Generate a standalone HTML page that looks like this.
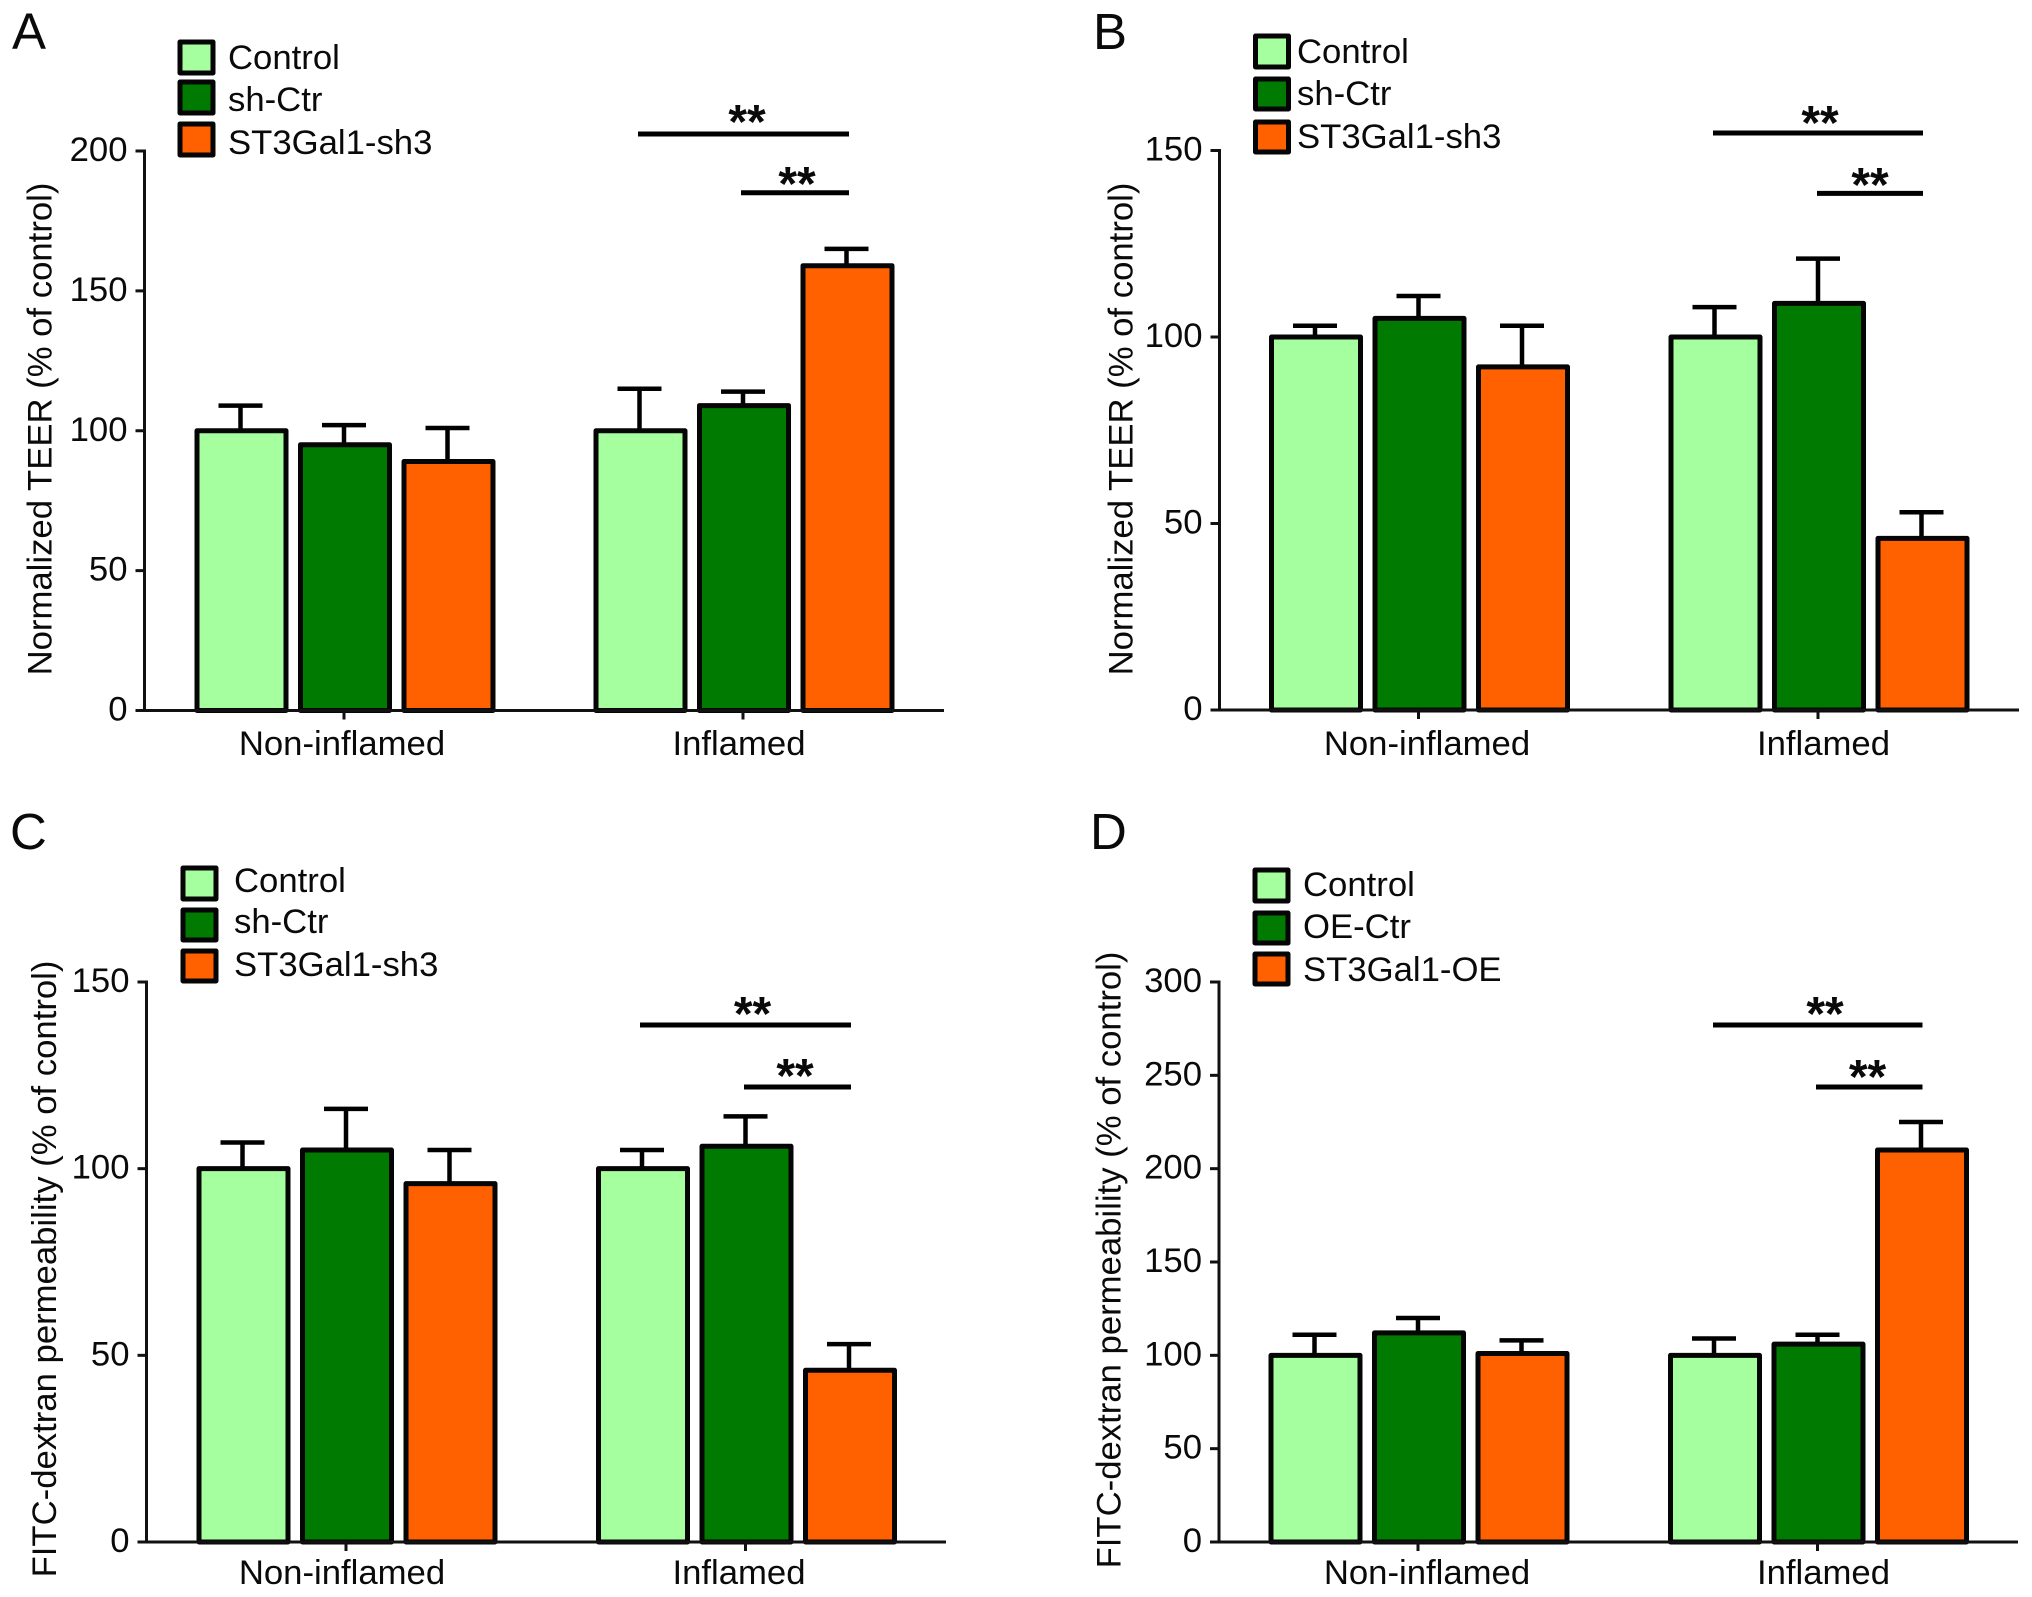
<!DOCTYPE html>
<html lang="en">
<head>
<meta charset="utf-8">
<title>Normalized TEER and FITC-dextran permeability</title>
<style>
html,body{margin:0;padding:0;background:#fff;}
svg{display:block;}
text{font-family:"Liberation Sans",sans-serif;fill:#0a0a0a;}
.tl{font-size:34.7px;}
.pl{font-size:51px;}
.st{font-size:48px;font-weight:bold;text-anchor:middle;}
.mid{text-anchor:middle;}
.br{stroke:#000;stroke-width:5;}
.lg{stroke:#050505;stroke-width:5;stroke-linejoin:round;}
</style>
</head>
<body>
<svg id="fig" xmlns="http://www.w3.org/2000/svg" width="2032" height="1597" viewBox="0 0 2032 1597">
<rect width="2032" height="1597" fill="#fff"/>

<g id="panel-a">
  <text class="pl" x="12" y="49">A</text>
  <text class="tl mid" transform="translate(51.5,429) rotate(-90)">Normalized TEER (% of control)</text>
  <g>
    <rect class="lg" x="180" y="42" width="33" height="31" fill="#a6ff9e"/>
    <text class="tl" x="228" y="69">Control</text>
    <rect class="lg" x="180" y="82" width="33" height="31" fill="#007a00"/>
    <text class="tl" x="228" y="111">sh-Ctr</text>
    <rect class="lg" x="180" y="124" width="33" height="31" fill="#ff6000"/>
    <text class="tl" x="228" y="154">ST3Gal1-sh3</text>
  </g>
  <text class="tl mid" x="342" y="755">Non-inflamed</text>
  <text class="tl mid" x="739" y="755">Inflamed</text>
  <g>
    <line class="br" x1="638" x2="849" y1="134" y2="134"/>
    <text class="st" x="747" y="138">**</text>
    <line class="br" x1="741" x2="849" y1="192.7" y2="192.7"/>
    <text class="st" x="797" y="200">**</text>
  </g>
  <g id="plot-a"></g>
</g>

<g id="panel-b">
  <text class="pl" x="1093" y="49">B</text>
  <text class="tl mid" transform="translate(1132.5,429) rotate(-90)">Normalized TEER (% of control)</text>
  <g>
    <rect class="lg" x="1255.5" y="36" width="33" height="31" fill="#a6ff9e"/>
    <text class="tl" x="1297" y="63">Control</text>
    <rect class="lg" x="1255.5" y="79" width="33" height="30" fill="#007a00"/>
    <text class="tl" x="1297" y="105">sh-Ctr</text>
    <rect class="lg" x="1255.5" y="122" width="33" height="30" fill="#ff6000"/>
    <text class="tl" x="1297" y="148">ST3Gal1-sh3</text>
  </g>
  <text class="tl mid" x="1427" y="755">Non-inflamed</text>
  <text class="tl mid" x="1823.5" y="755">Inflamed</text>
  <g>
    <line class="br" x1="1713" x2="1923" y1="133" y2="133"/>
    <text class="st" x="1820" y="139">**</text>
    <line class="br" x1="1817" x2="1923" y1="193.4" y2="193.4"/>
    <text class="st" x="1870" y="201">**</text>
  </g>
  <g id="plot-b"></g>
</g>

<g id="panel-c">
  <text class="pl" x="10" y="849">C</text>
  <text class="tl mid" transform="translate(56,1269) rotate(-90)">FITC-dextran permeability (% of control)</text>
  <g>
    <rect class="lg" x="183" y="868" width="33" height="31" fill="#a6ff9e"/>
    <text class="tl" x="234" y="892">Control</text>
    <rect class="lg" x="183" y="910" width="33" height="30" fill="#007a00"/>
    <text class="tl" x="234" y="933">sh-Ctr</text>
    <rect class="lg" x="183" y="951" width="33" height="30" fill="#ff6000"/>
    <text class="tl" x="234" y="976">ST3Gal1-sh3</text>
  </g>
  <text class="tl mid" x="342" y="1584">Non-inflamed</text>
  <text class="tl mid" x="739" y="1584">Inflamed</text>
  <g>
    <line class="br" x1="640" x2="851" y1="1025" y2="1025"/>
    <text class="st" x="752.5" y="1030">**</text>
    <line class="br" x1="744" x2="851" y1="1087" y2="1087"/>
    <text class="st" x="795" y="1092">**</text>
  </g>
  <g id="plot-c"></g>
</g>

<g id="panel-d">
  <text class="pl" x="1090" y="849">D</text>
  <text class="tl mid" transform="translate(1120.5,1260) rotate(-90)">FITC-dextran permeability (% of control)</text>
  <g>
    <rect class="lg" x="1255" y="870" width="33" height="31" fill="#a6ff9e"/>
    <text class="tl" x="1303" y="896">Control</text>
    <rect class="lg" x="1255" y="913" width="33" height="30" fill="#007a00"/>
    <text class="tl" x="1303" y="938">OE-Ctr</text>
    <rect class="lg" x="1255" y="954" width="33" height="30" fill="#ff6000"/>
    <text class="tl" x="1303" y="981">ST3Gal1-OE</text>
  </g>
  <text class="tl mid" x="1427" y="1584">Non-inflamed</text>
  <text class="tl mid" x="1823.5" y="1584">Inflamed</text>
  <g>
    <line class="br" x1="1713" x2="1922.5" y1="1025" y2="1025"/>
    <text class="st" x="1825" y="1030">**</text>
    <line class="br" x1="1816" x2="1922.5" y1="1087" y2="1087"/>
    <text class="st" x="1867.5" y="1093">**</text>
  </g>
  <g id="plot-d"></g>
</g>
</svg>

<script>
// Values: [Control, sh/OE-Ctr, ST3Gal1] for Non-inflamed then Inflamed
const seriesNames = ["control", "ctr", "st3gal1"];
const seriesColors = ["#a6ff9e", "#007a00", "#ff6000"];
const groupNames = ["non-inflamed", "inflamed"];

const meansA = [100, 95, 89, 100, 109, 159];
const upperA = [109, 102, 101, 115, 114, 165];
const ticksA = [0, 50, 100, 150, 200];

const meansB = [100, 105, 92, 100, 109, 46];
const upperB = [103, 111, 103, 108, 121, 53];
const ticksB = [0, 50, 100, 150];

const meansC = [100, 105, 96, 100, 106, 46];
const upperC = [107, 116, 105, 105, 114, 53];
const ticksC = [0, 50, 100, 150];

const meansD = [100, 112, 101, 100, 106, 210];
const upperD = [111, 120, 108, 109, 111, 225];
const ticksD = [0, 50, 100, 150, 200, 250, 300];

const NS = "http://www.w3.org/2000/svg";

function make(tag, attrs, parent) {
  const el = document.createElementNS(NS, tag);
  for (const k in attrs) el.setAttribute(k, attrs[k]);
  parent.appendChild(el);
  return el;
}

function drawPanel(id, means, upper, ticks, frame) {
  const g = document.getElementById("plot-" + id);
  const maxV = ticks[ticks.length - 1];
  const yOf = v => frame.y0 - (v / maxV) * (frame.y0 - frame.yTop);
  const pitch = 103.5, barW = 89, capW = 44, barShift = 1;

  means.forEach((m, i) => {
    const group = Math.floor(i / 3);
    const s = i % 3;
    const cx = frame.groupX[group] + barShift + (s - 1) * pitch;

    const stem = make("line", {x1: cx - 1, x2: cx - 1, y1: yOf(m), y2: yOf(upper[i]), stroke: "#000", "stroke-width": 4.5}, g);
    
    

    const cap = make("line", {x1: cx - 1 - capW / 2, x2: cx - 1 + capW / 2, y1: yOf(upper[i]), y2: yOf(upper[i]), stroke: "#000", "stroke-width": 4.5}, g);
    
    

    const bar = make("rect", {x: cx - barW / 2, y: yOf(m), width: barW, height: frame.y0 - yOf(m), fill: seriesColors[s], stroke: "#050505", "stroke-width": 5, "stroke-linejoin": "round"}, g);
    
    
  });

  const yAxis = make("line", {x1: frame.xAxisLeft + 9, x2: frame.xAxisLeft + 9, y1: frame.yTop - 1.5, y2: frame.y0, stroke: "#111", "stroke-width": 3}, g);
  
  

  const xAxis = make("line", {x1: frame.xAxisLeft, x2: frame.xAxisRight, y1: frame.y0, y2: frame.y0, stroke: "#111", "stroke-width": 3}, g);
  
  

  ticks.forEach(t => {
    const tickMark = make("line", {x1: frame.xAxisLeft, x2: frame.xAxisLeft + 9, y1: yOf(t), y2: yOf(t), stroke: "#111", "stroke-width": 3}, g);
    
    

    const label = make("text", {x: frame.xAxisLeft - 8, y: yOf(t) + 10, "text-anchor": "end", "font-size": "34.7"}, g);
    label.textContent = String(t);
    
    
  });

  frame.groupX.forEach((x, i) => {
    const tickMark = make("line", {x1: x, x2: x, y1: frame.y0, y2: frame.y0 + 9, stroke: "#111", "stroke-width": 3}, g);
    
    
  });
}

drawPanel("a", meansA, upperA, ticksA, {y0: 710.5, yTop: 151, xAxisLeft: 135.5, xAxisRight: 944, groupX: [344, 743]});
drawPanel("b", meansB, upperB, ticksB, {y0: 710, yTop: 150.5, xAxisLeft: 1210.5, xAxisRight: 2019, groupX: [1418.5, 1818]});
drawPanel("c", meansC, upperC, ticksC, {y0: 1542, yTop: 982, xAxisLeft: 137.5, xAxisRight: 946, groupX: [346, 745.5]});
drawPanel("d", meansD, upperD, ticksD, {y0: 1542, yTop: 982, xAxisLeft: 1210, xAxisRight: 2018, groupX: [1418, 1817.5]});
</script>
</body>
</html>
